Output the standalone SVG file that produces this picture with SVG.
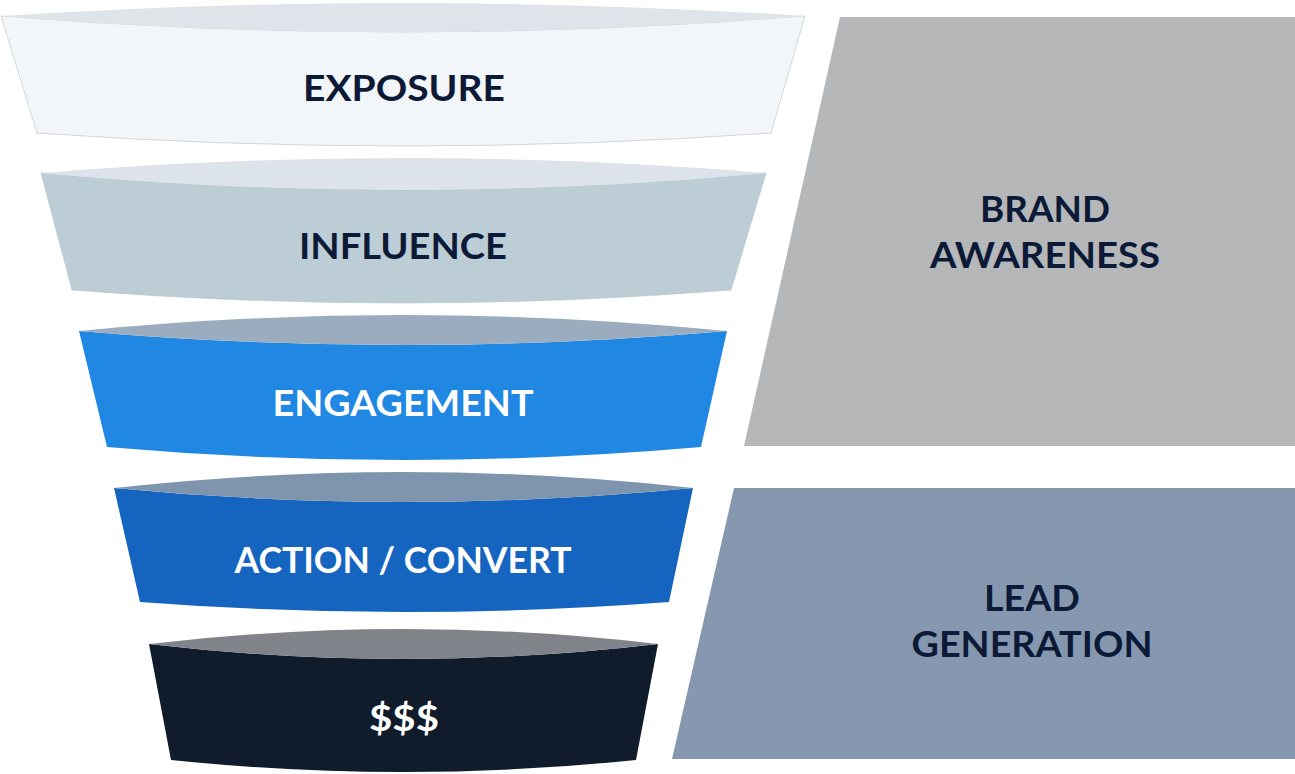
<svg xmlns="http://www.w3.org/2000/svg" width="1295" height="774" viewBox="0 0 1295 774">
<style>
text{font-family:Lato,"Liberation Sans",sans-serif;font-weight:700;font-size:37px;text-anchor:middle}
.dark{fill:#0c1a38}
.light{fill:#ffffff}
</style>
<rect width="1295" height="774" fill="#ffffff"/>
<g id="panel-brand">
<polygon points="840,17 1295,17 1295,446 744,446" fill="#b5b7b9"/>
<text class="dark" x="1045" y="222" textLength="130" lengthAdjust="spacingAndGlyphs">BRAND</text>
<text class="dark" x="1045" y="268" textLength="230" lengthAdjust="spacingAndGlyphs">AWARENESS</text>
</g>
<g id="panel-lead">
<polygon points="734,488 1295,488 1295,759 672,759" fill="#8598b0"/>
<text class="dark" x="1032" y="611" textLength="96" lengthAdjust="spacingAndGlyphs">LEAD</text>
<text class="dark" x="1032" y="657" textLength="241" lengthAdjust="spacingAndGlyphs">GENERATION</text>
</g>
<g id="tier-exposure">
<path d="M1,16 L37,133 Q403,159 771,133 L805,16 Q403,48 1,16 Z" fill="#f2f6f9" stroke="#c9cdd2" stroke-width="0.8"/>
<path d="M1,16 Q403,-10 805,16 Q403,48 1,16 Z" fill="#dfe4eb"/>
<text class="dark" x="404" y="101" textLength="202" lengthAdjust="spacingAndGlyphs">EXPOSURE</text>
</g>
<g id="tier-influence">
<path d="M41,173 L72,290 Q403,316 731,290 L766,173 Q403,207 41,173 Z" fill="#bccdd6" stroke="#b3c0c8" stroke-width="0.6"/>
<path d="M41,173 Q403,143 766,173 Q403,207 41,173 Z" fill="#dde3ea"/>
<text class="dark" x="403" y="259" textLength="208" lengthAdjust="spacingAndGlyphs">INFLUENCE</text>
</g>
<g id="tier-engagement">
<path d="M79,331 L107,447 Q403,473 701,447 L727,331 Q403,359 79,331 Z" fill="#2087e3"/>
<path d="M79,331 Q403,299 727,331 Q403,359 79,331 Z" fill="#9aacbe"/>
<text class="light" x="403" y="416" textLength="261" lengthAdjust="spacingAndGlyphs">ENGAGEMENT</text>
</g>
<g id="tier-action">
<path d="M114,488 L140,602 Q403,622 669,602 L693,488 Q403,516 114,488 Z" fill="#1565c0"/>
<path d="M114,488 Q403,456 693,488 Q403,516 114,488 Z" fill="#7f95ae"/>
<text class="light" x="403" y="573" textLength="337" lengthAdjust="spacingAndGlyphs">ACTION / CONVERT</text>
</g>
<g id="tier-money">
<path d="M149,644 L171,760 Q403,784 636,760 L658,644 Q403,674 149,644 Z" fill="#101b2b"/>
<path d="M149,644 Q403,614 658,644 Q403,674 149,644 Z" fill="#808389"/>
<text class="light" x="404" y="731" textLength="70" lengthAdjust="spacingAndGlyphs">$$$</text>
</g>
</svg>
